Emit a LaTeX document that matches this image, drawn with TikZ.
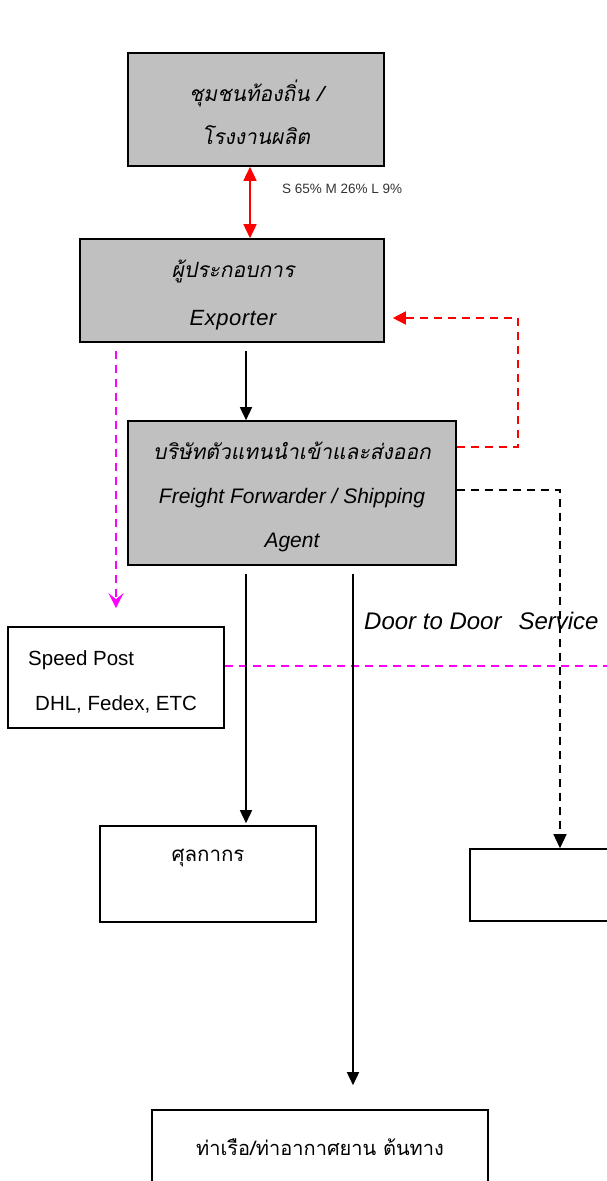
\documentclass[tikz,border=0pt]{standalone}
\usepackage{fontspec}
\setmainfont{Liberation Sans}
\newfontfamily\thaifont[Script=Thai]{Loma}
\newfontfamily\thaiitfont[Script=Thai,FakeSlant=0.2]{Loma}
\usetikzlibrary{arrows.meta}
\definecolor{boxgray}{HTML}{C0C0C0}
\definecolor{mag}{HTML}{FF00FF}
\definecolor{labelgray}{HTML}{333333}
\begin{document}
\begin{tikzpicture}[x=1pt,y=-1pt,
  graybox/.style={draw=black,line width=1.6pt,fill=boxgray,inner sep=0pt},
  whitebox/.style={draw=black,line width=1.6pt,fill=white,inner sep=0pt},
  solidarrow/.style={draw=black,line width=1.5pt,-{Triangle[length=13pt,width=12pt]}},
  redarrows/.style={draw=red,line width=1.5pt,{Triangle[length=14pt,width=13pt]}-{Triangle[length=14pt,width=13pt]}},
  reddash/.style={draw=red,line width=1.5pt,dash pattern=on 8pt off 6pt,-{Triangle[length=13pt,width=13pt]}},
  blackdash/.style={draw=black,line width=1.5pt,dash pattern=on 8pt off 6pt,-{Triangle[length=14pt,width=13pt]}},
  magdash/.style={draw=mag,line width=1.5pt,dash pattern=on 8pt off 6pt},
  magarrow/.style={magdash,-{Stealth[length=15pt,width=15pt,inset=6pt,fill=mag]}},
  plaintext/.style={inner sep=0pt,align=center}
]
\useasboundingbox (0,0) rectangle (607,1181);
\clip (0,0) rectangle (607,1181);

% boxes
\node[graybox,minimum width=256pt,minimum height=113pt] (b1) at (256,109.5) {};
\node[plaintext,font=\thaiitfont\fontsize{21}{43}\selectfont] (b1t) at (256,112) {ชุมชนท้องถิ่น /\\โรงงานผลิต};
\node[graybox,minimum width=304pt,minimum height=103pt] (b2) at (232,290.5) {};
\node[plaintext,font=\fontsize{21}{48}\selectfont] (b2t) at (233,295.5) {{\thaiitfont ผู้ประกอบการ}\\{\itshape\fontsize{22}{48}\selectfont E\kern0.5pt x\kern0.5pt p\kern0.5pt o\kern0.5pt r\kern0.5pt t\kern0.5pt e\kern0.5pt r}};
\node[graybox,minimum width=328pt,minimum height=144pt] (b3) at (292,493) {};
\node[plaintext,font=\fontsize{21}{44}\selectfont] (b3t) at (292,497) {{\thaiitfont บริษัทตัวแทนนำเข้าและส่งออก}\\{\itshape Freight Forwarder / Shipping}\\{\itshape Agent}};
\node[whitebox,minimum width=216pt,minimum height=101pt] (sp) at (116,677.5) {};
\node[plaintext,anchor=west,align=left,font=\fontsize{20.5}{45}\selectfont] (spt) at (28,681.5) {Speed Post\\\hspace*{7pt}DHL, Fedex, ETC};
\node[whitebox,minimum width=216pt,minimum height=96pt] (cu) at (208,874) {};
\node[plaintext,font=\thaifont\fontsize{20.5}{24}\selectfont] (cut) at (208,858) {ศุลกากร};
\node[whitebox,minimum width=180pt,minimum height=72pt] (rb) at (560,885) {};
\node[whitebox,minimum width=336pt,minimum height=74pt,font=\thaifont\fontsize{20}{24}\selectfont] (pt) at (320,1147) {ท่าเรือ/ท่าอากาศยาน ต้นทาง};

% labels
\node[plaintext,anchor=west,text=labelgray,font=\fontsize{13.5}{16}\selectfont] (pct) at (282,189) {S 65\% M 26\% L 9\%};
\node[plaintext,anchor=base west,font=\itshape\fontsize{24}{28}\selectfont] (dd) at (364,629) {Door to Door\hspace{17pt}Service};

% connector coordinates
\coordinate (r1) at (518,447);
\coordinate (r2) at (518,318);
\coordinate (k1) at (560,490);
\coordinate (medge) at (620,666);

% connectors
\draw[redarrows] (250,166.8) -- (250,238.2);
\draw[solidarrow] ([yshift=-8pt]b2.south -| 246,0) -- (b3.north -| 246,0);
\draw[reddash] (b3.east |- r1) -- (r1) -- (r2) -- ([xshift=8pt]b2.east |- r2);
\draw[blackdash] (b3.east |- k1) -- (k1) -- (rb.north);
\draw[magarrow] ([yshift=-8pt]b2.south -| 116,0) -- ([yshift=18pt]sp.north);
\draw[magdash] (sp.east |- medge) -- (medge);
\draw[solidarrow] ([yshift=-8pt]b3.south -| 246,0) -- ([yshift=2pt]cu.north -| 246,0);
\draw[solidarrow] ([yshift=-8pt]b3.south -| 353,0) -- ([yshift=24pt]pt.north -| 353,0);
\end{tikzpicture}
\end{document}
